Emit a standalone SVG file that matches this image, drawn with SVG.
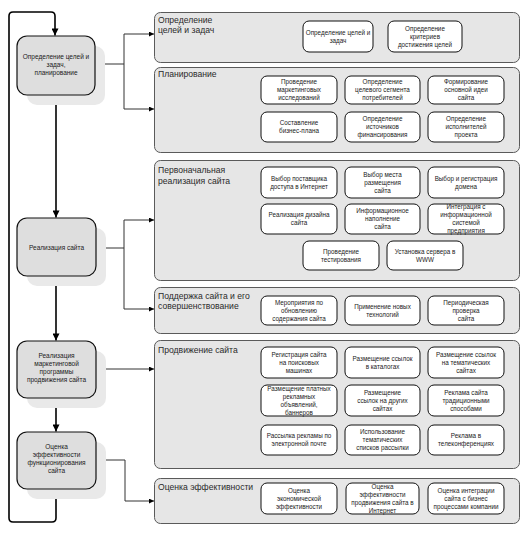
<svg xmlns="http://www.w3.org/2000/svg" width="524" height="534" viewBox="0 0 524 534">
<style>
.bg{fill:#ffffff}
.panel{fill:#e6e6e6;stroke:#5a5a5a;stroke-width:1}
.box{fill:#ffffff;stroke:#111;stroke-width:1}
.node{fill:#dedede;stroke:#111;stroke-width:1.2}
.shadow{fill:#e9e9e9;stroke:none}
.t{font-family:"Liberation Sans",Arial,sans-serif;font-size:6.3px;fill:#1a1a1a;text-anchor:middle}
.nt{font-family:"Liberation Sans",Arial,sans-serif;font-size:6.5px;fill:#1a1a1a;text-anchor:middle}
.title{font-family:"Liberation Sans",Arial,sans-serif;font-size:8.6px;fill:#2a2a2a}
.conn{fill:none;stroke:#333;stroke-width:1}
.loop{fill:none;stroke:#000;stroke-width:1.6}
</style>
<defs>
<marker id="ah" viewBox="0 0 10 10" refX="10" refY="5" markerWidth="7" markerHeight="5" markerUnits="userSpaceOnUse" orient="auto"><path d="M0,0 L10,5 L0,10 z" fill="#000"/></marker>
<marker id="ahv" viewBox="0 0 10 10" refX="10" refY="5" markerWidth="8" markerHeight="7" markerUnits="userSpaceOnUse" orient="auto"><path d="M0,0 L10,5 L0,10 z" fill="#000"/></marker>
</defs>
<rect class="bg" x="0" y="0" width="524" height="534"/>

<g id="connectors">
<path class="loop" d="M56,489 V518 Q56,522 52,522 H13 Q9,522 9,518 V16 Q9,12 13,12 H51 Q55,12 55,16 V35.5" marker-end="url(#ahv)"/>
<path class="loop" d="M56,95 V217.5" marker-end="url(#ahv)"/>
<path class="loop" d="M56,276 V340.5" marker-end="url(#ahv)"/>
<path class="loop" d="M56,398 V431.5" marker-end="url(#ahv)"/>
<path class="conn" d="M95,64 H124"/>
<path class="conn" d="M124,34 V109"/>
<path class="conn" d="M124,34 H154" marker-end="url(#ah)"/>
<path class="conn" d="M124,109 H154" marker-end="url(#ah)"/>
<path class="conn" d="M96,248 H124"/>
<path class="conn" d="M124,220 V309"/>
<path class="conn" d="M124,220 H154" marker-end="url(#ah)"/>
<path class="conn" d="M124,309 H154" marker-end="url(#ah)"/>
<path class="conn" d="M96,369 H154" marker-end="url(#ah)"/>
<path class="conn" d="M96,460 H125 V501 H154" marker-end="url(#ah)"/>
</g>

<g id="node-plan">
<rect class="shadow" x="27" y="46" width="78" height="59" rx="10"/>
<rect class="node" x="17" y="36" width="78" height="59" rx="10"/>
<text class="nt" x="56" y="59">Определение целей и<tspan x="56" dy="8">задач,</tspan><tspan x="56" dy="8">планирование</tspan></text>
</g>
<g id="node-impl">
<rect class="shadow" x="27" y="228" width="79" height="58" rx="10"/>
<rect class="node" x="17" y="218" width="79" height="58" rx="10"/>
<text class="nt" x="56.5" y="249.5">Реализация сайта</text>
</g>
<g id="node-market">
<rect class="shadow" x="27" y="351" width="79" height="57" rx="10"/>
<rect class="node" x="17" y="341" width="79" height="57" rx="10"/>
<text class="nt" x="56.5" y="358">Реализация<tspan x="56.5" dy="8">маркетинговой</tspan><tspan x="56.5" dy="8">программы</tspan><tspan x="56.5" dy="8">продвижения сайта</tspan></text>
</g>
<g id="node-eval">
<rect class="shadow" x="27" y="442" width="79" height="57" rx="10"/>
<rect class="node" x="17" y="432" width="79" height="57" rx="10"/>
<text class="nt" x="56.5" y="449">Оценка<tspan x="56.5" dy="8">эффективности</tspan><tspan x="56.5" dy="8">функционирования</tspan><tspan x="56.5" dy="8">сайта</tspan></text>
</g>

<g id="panel-goals">
<rect class="panel" x="154.5" y="12.5" width="365" height="50" rx="6"/>
<text class="title" x="158" y="23">Определение<tspan x="158" dy="10">целей и задач</tspan></text>
<rect class="box" x="303" y="21" width="70" height="31" rx="6"/>
<text class="t" x="338" y="34.8">Определение целей и<tspan x="338" dy="8">задач</tspan></text>
<rect class="box" x="388" y="21" width="74" height="31" rx="6"/>
<text class="t" x="425" y="30.8">Определение<tspan x="425" dy="8">критериев</tspan><tspan x="425" dy="8">достижения   целей</tspan></text>
</g>

<g id="panel-planning">
<rect class="panel" x="154.5" y="67.5" width="365" height="85" rx="6"/>
<text class="title" x="158" y="77">Планирование</text>
<rect class="box" x="261" y="76" width="76" height="28" rx="6"/>
<text class="t" x="299" y="84.3">Проведение<tspan x="299" dy="8">маркетинговых</tspan><tspan x="299" dy="8">исследований</tspan></text>
<rect class="box" x="345" y="76" width="75" height="28" rx="6"/>
<text class="t" x="382.5" y="84.3">Определение<tspan x="382.5" dy="8">целевого сегмента</tspan><tspan x="382.5" dy="8">потребителей</tspan></text>
<rect class="box" x="428" y="76" width="76" height="28" rx="6"/>
<text class="t" x="466" y="84.3">Формирование<tspan x="466" dy="8">основной идеи</tspan><tspan x="466" dy="8">сайта</tspan></text>
<rect class="box" x="261" y="112" width="76" height="30" rx="6"/>
<text class="t" x="299" y="125.3">Составление<tspan x="299" dy="8">бизнес-плана</tspan></text>
<rect class="box" x="345" y="112" width="75" height="30" rx="6"/>
<text class="t" x="382.5" y="121.3">Определение<tspan x="382.5" dy="8">источников</tspan><tspan x="382.5" dy="8">финансирования</tspan></text>
<rect class="box" x="428" y="112" width="76" height="30" rx="6"/>
<text class="t" x="466" y="121.3">Определение<tspan x="466" dy="8">исполнителей</tspan><tspan x="466" dy="8">проекта</tspan></text>
</g>

<g id="panel-initial">
<rect class="panel" x="154.5" y="160.5" width="365" height="120" rx="6"/>
<text class="title" x="158" y="173">Первоначальная<tspan x="158" dy="11">реализация сайта</tspan></text>
<rect class="box" x="261" y="167" width="76" height="31" rx="6"/>
<text class="t" x="299" y="180.8">Выбор поставщика<tspan x="299" dy="8">доступа в Интернет</tspan></text>
<rect class="box" x="345" y="167" width="75" height="31" rx="6"/>
<text class="t" x="382.5" y="176.8">Выбор места<tspan x="382.5" dy="8">размещения</tspan><tspan x="382.5" dy="8">сайта</tspan></text>
<rect class="box" x="428" y="167" width="76" height="31" rx="6"/>
<text class="t" x="466" y="180.8">Выбор и регистрация<tspan x="466" dy="8">домена</tspan></text>
<rect class="box" x="261" y="204" width="76" height="30" rx="6"/>
<text class="t" x="299" y="217.3">Реализация дизайна<tspan x="299" dy="8">сайта</tspan></text>
<rect class="box" x="345" y="204" width="75" height="30" rx="6"/>
<text class="t" x="382.5" y="213.3">Информационное<tspan x="382.5" dy="8">наполнение</tspan><tspan x="382.5" dy="8">сайта</tspan></text>
<rect class="box" x="428" y="204" width="76" height="30" rx="6"/>
<text class="t" x="466" y="209.3">Интеграция с<tspan x="466" dy="8">информационной</tspan><tspan x="466" dy="8">системой</tspan><tspan x="466" dy="8">предприятия</tspan></text>
<rect class="box" x="303" y="241" width="76" height="29" rx="6"/>
<text class="t" x="341" y="253.8">Проведение<tspan x="341" dy="8">тестирования</tspan></text>
<rect class="box" x="387" y="241" width="76" height="29" rx="6"/>
<text class="t" x="425" y="253.8">Установка сервера в<tspan x="425" dy="8">WWW</tspan></text>
</g>

<g id="panel-support">
<rect class="panel" x="154.5" y="287.5" width="365" height="46" rx="6"/>
<text class="title" x="158" y="299">Поддержка сайта и  его<tspan x="158" dy="10">совершенствование</tspan></text>
<rect class="box" x="261" y="296" width="76" height="29" rx="6"/>
<text class="t" x="299" y="304.8">Мероприятия по<tspan x="299" dy="8">обновлению</tspan><tspan x="299" dy="8">содержания сайта</tspan></text>
<rect class="box" x="345" y="296" width="75" height="29" rx="6"/>
<text class="t" x="382.5" y="308.8">Применение новых<tspan x="382.5" dy="8">технологий</tspan></text>
<rect class="box" x="428" y="296" width="76" height="29" rx="6"/>
<text class="t" x="466" y="304.8">Периодическая<tspan x="466" dy="8">проверка</tspan><tspan x="466" dy="8">сайта</tspan></text>
</g>

<g id="panel-promotion">
<rect class="panel" x="154.5" y="340.5" width="365" height="128" rx="6"/>
<text class="title" x="158" y="353">Продвижение сайта</text>
<rect class="box" x="261" y="347" width="76" height="31" rx="6"/>
<text class="t" x="299" y="356.8">Регистрация сайта<tspan x="299" dy="8">на поисковых</tspan><tspan x="299" dy="8">машинах</tspan></text>
<rect class="box" x="345" y="347" width="75" height="31" rx="6"/>
<text class="t" x="382.5" y="360.8">Размещение ссылок<tspan x="382.5" dy="8">в  каталогах</tspan></text>
<rect class="box" x="428" y="347" width="76" height="31" rx="6"/>
<text class="t" x="466" y="356.8">Размещение ссылок<tspan x="466" dy="8">на тематических</tspan><tspan x="466" dy="8">сайтах</tspan></text>
<rect class="box" x="261" y="385" width="76" height="31" rx="6"/>
<text class="t" x="299" y="390.8">Размещение платных<tspan x="299" dy="8">рекламных</tspan><tspan x="299" dy="8">объявлений,</tspan><tspan x="299" dy="8">баннеров</tspan></text>
<rect class="box" x="345" y="385" width="75" height="31" rx="6"/>
<text class="t" x="382.5" y="394.8">Размещение<tspan x="382.5" dy="8">ссылок на других</tspan><tspan x="382.5" dy="8">сайтах</tspan></text>
<rect class="box" x="428" y="385" width="76" height="31" rx="6"/>
<text class="t" x="466" y="394.8">Реклама сайта<tspan x="466" dy="8">традиционными</tspan><tspan x="466" dy="8">способами</tspan></text>
<rect class="box" x="261" y="425" width="76" height="30" rx="6"/>
<text class="t" x="299" y="438.3">Рассылка рекламы по<tspan x="299" dy="8">электронной почте</tspan></text>
<rect class="box" x="345" y="425" width="75" height="30" rx="6"/>
<text class="t" x="382.5" y="434.3">Использование<tspan x="382.5" dy="8">тематических</tspan><tspan x="382.5" dy="8">списков рассылки</tspan></text>
<rect class="box" x="428" y="425" width="76" height="30" rx="6"/>
<text class="t" x="466" y="438.3">Реклама в<tspan x="466" dy="8">телеконференциях</tspan></text>
</g>

<g id="panel-evaluation">
<rect class="panel" x="154.5" y="478.5" width="365" height="45" rx="6"/>
<text class="title" x="158" y="490">Оценка эффективности</text>
<rect class="box" x="261" y="483" width="76" height="31" rx="6"/>
<text class="t" x="299" y="492.8">Оценка<tspan x="299" dy="8">экономической</tspan><tspan x="299" dy="8">эффективности</tspan></text>
<rect class="box" x="346" y="483" width="73" height="31" rx="6"/>
<text class="t" x="382.5" y="488.8">Оценка<tspan x="382.5" dy="8">эффективности</tspan><tspan x="382.5" dy="8">продвижения сайта в</tspan><tspan x="382.5" dy="8">Интернет</tspan></text>
<rect class="box" x="428" y="483" width="76" height="31" rx="6"/>
<text class="t" x="466" y="492.8">Оценка интеграции<tspan x="466" dy="8">сайта с бизнес</tspan><tspan x="466" dy="8">процессами компании</tspan></text>
</g>
</svg>
